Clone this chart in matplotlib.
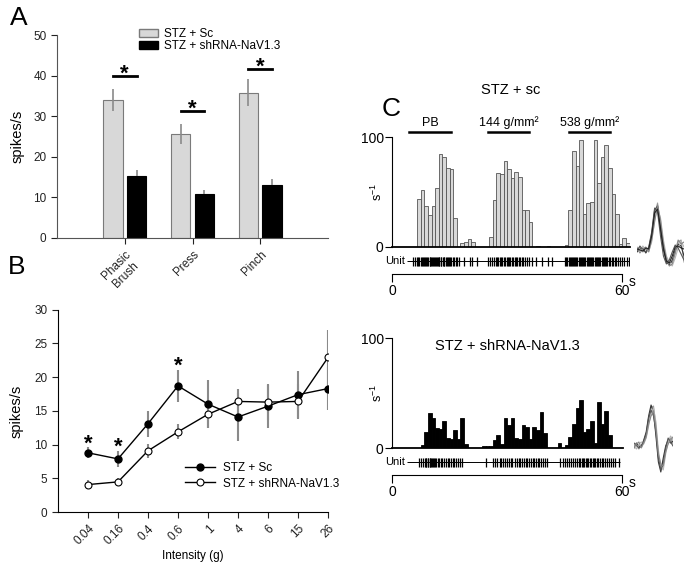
import numpy as np
import matplotlib
matplotlib.use("Agg")
import matplotlib.pyplot as plt
from matplotlib.patches import Patch
from matplotlib.lines import Line2D

plt.rcParams['font.family'] = ['Liberation Sans', 'DejaVu Sans']

W, H = 693, 570

# ---- panel A: firing to mechanical stimuli
stimuli = ['Phasic\nBrush', 'Press', 'Pinch']
sc_mean = [34.0, 25.6, 35.8]
sc_err = [2.7, 2.4, 3.3]
sh_mean = [15.2, 10.8, 13.1]
sh_err = [1.6, 1.0, 1.4]
sig_a = [40.0, 31.3, 41.7]

# ---- panel B: von Frey intensities
intensity = ['0.04', '0.16', '0.4', '0.6', '1', '4', '6', '15', '26']
b_sc = [8.8, 7.9, 13.1, 18.7, 16.0, 14.1, 15.7, 17.4, 18.3]
b_sc_err = [0.8, 1.15, 1.9, 2.4, 3.5, 3.6, 3.3, 3.5, 3.2]
b_sh = [4.1, 4.5, 9.1, 11.9, 14.5, 16.4, 16.3, 16.4, 22.9]
b_sh_err = [0.7, 0.5, 1.0, 1.1, 2.0, 1.9, 2.6, 2.6, 4.1]
b_stars = ['0.04', '0.16', '0.6']

# ---- panel C: peristimulus histograms (bin = 0.94 s)
BIN_S = 0.94
hist_sc = [0, 0, 0, 0, 0, 0, 0,
           44, 52, 37, 29, 37, 54, 85, 82, 72, 71, 26,
           0, 4, 5, 7, 5, 0, 0, 0, 0,
           9, 43, 67, 66, 78, 71, 63, 68, 64, 34, 34, 23,
           0, 0.8, 0, 0, 0.8, 0, 0, 0, 0,
           1.5, 34, 87, 74, 97, 30, 40, 41, 97, 58, 82, 93, 72, 48, 30, 2.5, 8, 3.5]
hist_sh = [0, 0, 0, 0, 0, 0, 0, 0,
           3, 15, 32, 27, 18, 17, 25, 9, 8, 16, 8, 27, 4,
           0, 0, 0, 0,
           2, 2, 2, 7, 12, 4, 27, 21, 27, 9, 8, 21, 19, 8, 19, 16, 33, 14,
           0, 0, 0, 5, 0,
           3, 10, 22, 36, 44, 15, 17, 25, 5, 42, 22, 34, 12]

stim_labels = ['PB', '144 g/mm²', '538 g/mm²']
stim_start = [4.5, 25.0, 46.1]
stim_end = [15.3, 35.9, 57.0]

spikes_sc = [5.6, 6.0, 6.5, 6.8, 7.1, 7.5, 7.8, 8.0, 8.3, 8.6, 8.8, 9.1, 9.5, 9.8, 10.0,
             10.2, 10.4, 10.7, 10.9, 11.2, 11.4, 11.7, 12.0, 12.2, 12.4, 12.7, 12.9, 13.2,
             13.5, 13.7, 14.0, 14.3, 14.6, 14.9, 15.2, 15.5, 15.9, 16.2, 16.6, 17.1, 17.6,
             18.9, 20.3, 20.9, 22.3,
             25.1, 25.7, 26.2, 26.6, 27.1, 27.4, 27.8, 28.1, 28.5, 28.8, 29.2, 29.5, 29.9,
             30.2, 30.6, 30.9, 31.3, 31.6, 32.0, 32.4, 32.7, 33.1, 33.5, 33.9, 34.3, 34.8,
             35.3, 35.9, 36.5,
             37.6, 39.1, 40.8, 41.9,
             45.2, 45.5, 45.8, 46.1, 46.4, 46.7, 47.0, 47.2, 47.5, 47.8, 48.1, 48.4, 48.7,
             49.0, 49.3, 49.6, 49.9, 50.2, 50.5, 50.8, 51.1, 51.4, 51.7, 52.0, 52.3, 52.6,
             52.9, 53.2, 53.5, 53.8, 54.1, 54.4, 54.7, 55.0, 55.3, 55.6, 55.9, 56.2, 56.6,
             57.0, 57.4, 57.8, 58.2, 58.6, 59.1, 59.5, 60.0,
             60.6, 61.3, 61.9]
spikes_sh = [7.1, 7.6, 8.0, 8.5, 8.8, 9.0, 9.3, 9.5, 9.8, 10.0, 10.3, 10.5, 10.8, 11.0,
             11.3, 11.6, 11.9, 12.3, 12.7, 13.1, 13.6, 14.0, 14.5, 14.9, 15.4, 15.8, 16.3,
             16.7, 17.2, 17.7, 18.2,
             24.5, 26.4, 26.9, 27.5, 28.1, 28.4, 29.0, 29.6, 30.0, 30.5, 31.1, 31.4, 32.0,
             32.6, 33.1, 33.5, 34.0, 34.4, 34.9, 35.3, 35.7, 36.2, 36.7, 37.1, 37.6, 38.0,
             38.5, 39.0, 39.5, 40.0, 40.4,
             43.9, 44.6, 45.1, 45.7, 46.2, 46.8, 47.3, 47.8, 48.2, 48.7, 49.1, 49.5, 49.9,
             50.2, 50.6, 51.0, 51.3, 51.7, 52.0, 52.4, 52.8, 53.1, 53.5, 53.9, 54.3, 54.7,
             55.2, 55.6, 56.1, 56.6, 57.1, 57.6, 58.2, 59.3]

# overlaid spike waveforms (arbitrary units)
wave_sc = [[0, 3, -2, 1, 0, 12, 35, 47, 25, 5, -10, -14, -12, -4, 8, 10, -12],
           [-2, 1, 2, -3, 2, 16, 40, 44, 20, 0, -12, -15, -10, 0, 6, 4, -6],
           [3, -1, 4, 0, -1, 8, 30, 42, 32, 10, -6, -12, -16, -8, 2, 9, 3],
           [-1, 4, 0, -2, 3, 18, 42, 38, 14, -6, -14, -10, -2, 5, 2, -4, -10],
           [2, -3, 1, 3, -2, 10, 28, 45, 30, 6, -8, -16, -14, -2, 10, 6, 8],
           [1, 0, -1, 2, 1, 14, 37, 41, 22, 2, -11, -13, -6, 3, 4, 2, 1]]
wave_sh = [[2, 0, -3, 1, 4, 10, 25, 38, 40, 20, -10, -22, -15, -4, 3, 8, 2],
           [-2, 3, 0, -1, 6, 14, 30, 41, 34, 10, -16, -26, -12, 0, 6, 3, 5],
           [0, -3, 2, 4, 2, 8, 20, 33, 38, 24, -4, -20, -24, -8, 4, 10, 6],
           [3, 1, -2, 0, 5, 12, 28, 36, 30, 14, -12, -24, -18, -2, 8, 4, 0],
           [-1, 2, 4, -2, 3, 9, 22, 30, 35, 18, -8, -18, -20, -6, 2, 6, 9]]
wave_colors = ['#9a9a9a', '#333333', '#b5b5b5', '#555555', '#888888', '#222222']

LIGHT = '#d8d8d8'
EDGE = '#7a7a7a'
ERR = '#8a8a8a'


def px_axes(fig, x0, y0, x1, y1):
    return fig.add_axes([x0 / W, 1 - y1 / H, (x1 - x0) / W, (y1 - y0) / H])


def clean(ax):
    ax.spines['top'].set_visible(False)
    ax.spines['right'].set_visible(False)
    ax.tick_params(direction='out', length=4, width=0.8, labelsize=8.5, colors='#222222')


fig = plt.figure(figsize=(W / 100, H / 100), dpi=100)

# ---------------- A
axA = px_axes(fig, 57, 35, 328, 238)
pos = np.arange(1, len(stimuli) + 1)
off, bw = 0.175, 0.29
axA.bar(pos - off, sc_mean, bw, color=LIGHT, edgecolor=EDGE, linewidth=0.8)
axA.bar(pos + off, sh_mean, bw, color='black', edgecolor='black', linewidth=0.8)
axA.vlines(pos - off, np.subtract(sc_mean, sc_err), np.add(sc_mean, sc_err), color=ERR, lw=1.2)
axA.vlines(pos + off, sh_mean, np.add(sh_mean, sh_err), color=ERR, lw=1.2)
for p, s in zip(pos, sig_a):
    axA.plot([p - off, p + off], [s, s], color='black', lw=2)
    axA.text(p, s - 1.0, '*', ha='center', va='baseline', fontsize=16, fontweight='bold')
axA.set_xlim(0, 4)
axA.set_ylim(0, 50)
axA.set_yticks(range(0, 51, 10))
axA.set_xticks(pos)
axA.set_xticklabels(stimuli, rotation=45, ha='right', va='top', rotation_mode='anchor',
                    multialignment='center')
axA.set_ylabel('spikes/s', fontsize=10.5, labelpad=6)
clean(axA)
for sp in ['left', 'bottom']:
    axA.spines[sp].set_color('#555555')
axA.legend(handles=[Patch(facecolor=LIGHT, edgecolor=EDGE, label='STZ + Sc'),
                    Patch(facecolor='black', edgecolor='black', label='STZ + shRNA-NaV1.3')],
           loc='upper left', bbox_to_anchor=(0.263, 1.085), frameon=False, fontsize=8.5,
           handlelength=1.6, handleheight=0.6, labelspacing=0.0, handletextpad=0.5)

# ---------------- B
axB = px_axes(fig, 58, 309.5, 328, 512.3)
xb = np.arange(1, len(intensity) + 1)
axB.vlines(xb, np.subtract(b_sc, b_sc_err), np.add(b_sc, b_sc_err), color=ERR, lw=1.5, zorder=1)
axB.vlines(xb, np.subtract(b_sh, b_sh_err), np.add(b_sh, b_sh_err), color=ERR, lw=1.5, zorder=1)
axB.plot(xb, b_sc, '-o', color='black', lw=1, ms=5, mfc='black', zorder=3)
axB.plot(xb, b_sh, '-o', color='black', lw=1, ms=5, mfc='white', mew=0.8, zorder=3)
for lab in b_stars:
    i = intensity.index(lab)
    axB.text(xb[i], b_sc[i] + b_sc_err[i] - 0.3, '*', ha='center', va='baseline',
             fontsize=16, fontweight='bold')
axB.set_xlim(0, 9)
axB.set_ylim(0, 30)
axB.set_yticks(range(0, 31, 5))
axB.set_xticks(xb)
axB.set_xticklabels(intensity, rotation=45, ha='right', va='top', rotation_mode='anchor')
axB.set_ylabel('spikes/s', fontsize=10.5, labelpad=8)
axB.set_xlabel('Intensity (g)', fontsize=8.5, labelpad=2)
clean(axB)
axB.legend(handles=[Line2D([], [], color='black', marker='o', ms=5, mfc='black', lw=1),
                    Line2D([], [], color='black', marker='o', ms=5, mfc='white', lw=1, mew=0.8)],
           labels=['STZ + Sc', 'STZ + shRNA-NaV1.3'], loc='upper left',
           bbox_to_anchor=(0.43, 0.3), frameon=False, fontsize=8.5, handlelength=2.6,
           labelspacing=0.3, handletextpad=0.6)

# ---------------- C


def histogram_block(top, counts, color, edge, title, title_y, stim, raster, raster_span,
                    waves, wave_box, wave_ylim, xmax):
    bottom = top + 110
    ax = px_axes(fig, 392, top, 392 + xmax * 3.83, bottom)
    t = np.arange(len(counts)) * BIN_S
    ax.bar(t, counts, width=BIN_S, align='edge', color=color, edgecolor=edge, linewidth=0.6)
    ax.set_xlim(0, xmax)
    ax.set_ylim(0, 100)
    ax.set_yticks([0, 100])
    ax.set_xticks([])
    ax.spines['top'].set_visible(False)
    ax.spines['right'].set_visible(False)
    ax.spines['bottom'].set_linewidth(1.3)
    ax.tick_params(direction='out', length=5, width=0.8, labelsize=10, pad=1)
    ax.set_ylabel(r'$\mathregular{s^{-1}}$', fontsize=9)
    ax.yaxis.set_label_coords(-0.03, 0.5)
    ax.text(0.5, title_y, title, transform=ax.transAxes, ha='center', va='bottom', fontsize=10.5)
    if stim:
        for lab, a, b in zip(stim_labels, stim_start, stim_end):
            ax.plot([a, b], [105, 105], color='black', lw=1.8, clip_on=False)
            ax.text((a + b) / 2, 107, lab, ha='center', va='bottom', fontsize=9)

    axr = px_axes(fig, 392, bottom + 8, 392 + xmax * 3.83, bottom + 20)
    axr.set_xlim(0, xmax)
    axr.set_ylim(-1, 1)
    axr.axis('off')
    axr.hlines(0, raster_span[0], raster_span[1], color='black', lw=0.7)
    axr.vlines(raster, -0.75, 0.75, color='black', lw=0.9)
    axr.text(raster_span[0] - 0.4, 0, 'Unit', ha='right', va='center', fontsize=8)

    axs = px_axes(fig, 392, bottom + 26, 392 + xmax * 3.83, bottom + 27)
    axs.set_xlim(0, xmax)
    for sp in ['top', 'right', 'left']:
        axs.spines[sp].set_visible(False)
    axs.spines['bottom'].set_bounds(0, 60)
    axs.set_yticks([])
    axs.set_xticks([0, 60])
    axs.set_xticklabels(['0', '60'])
    axs.tick_params(direction='out', length=6, width=0.8, labelsize=10, pad=1)
    axs.text(61.8, -0.9, 's', transform=axs.get_xaxis_transform(), ha='left', va='top',
             fontsize=10)

    axw = px_axes(fig, *wave_box)
    for tr, c in zip(waves, wave_colors):
        axw.plot(np.arange(len(tr)), tr, color=c, lw=0.8)
    axw.set_xlim(0, 16)
    axw.set_ylim(*wave_ylim)
    axw.axis('off')


histogram_block(137, hist_sc, LIGHT, '#555555', 'STZ + sc', 1.36, True, spikes_sc,
                (3.8, 62.3), wave_sc, (637, 195, 684, 270), (-20, 55), 62.1)
histogram_block(338, hist_sh, 'black', 'black', 'STZ + shRNA-NaV1.3', 0.86, False, spikes_sh,
                (3.8, 59.5), wave_sh, (634, 395, 673, 480), (-34, 51), 60.3)

# panel letters
fig.text(10 / W, 1 - 6 / H, 'A', fontsize=19, va='top')
fig.text(8 / W, 1 - 255 / H, 'B', fontsize=19, va='top')
fig.text(382 / W, 1 - 97 / H, 'C', fontsize=19, va='top')

fig.savefig('out.png', dpi=100)
